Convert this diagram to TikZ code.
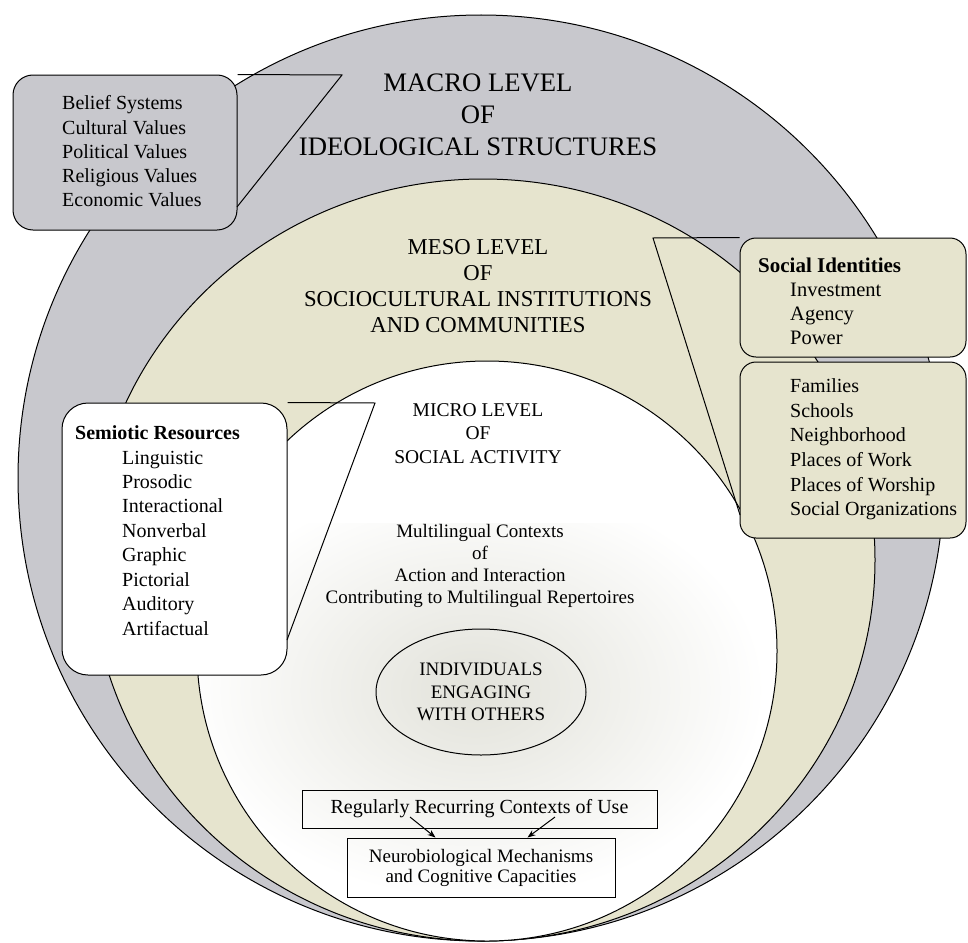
\documentclass[tikz,border=0pt]{standalone}
\usepackage{fontspec}
\setmainfont{Liberation Serif}
\usetikzlibrary{arrows.meta,calc,shapes.geometric}
\definecolor{ringgray}{RGB}{200,200,205}
\definecolor{ringbeige}{RGB}{230,228,206}
\definecolor{glowgray}{RGB}{226,226,218}
\begin{document}
\begin{tikzpicture}[x=1pt,y=-1pt,
  ring/.style={draw, line width=1pt},
  lvl/.style={align=center, inner sep=0pt},
  lst/.style={align=left, inner sep=0pt, anchor=west},
  cbox/.style={draw, line width=1pt, rounded corners=20pt, inner sep=0pt},
  tail/.style={line width=1pt},
  plainbox/.style={draw, line width=1pt, align=center, inner sep=0pt},
  arr/.style={-{Stealth[length=8pt,width=6pt]}, line width=1pt}]
\useasboundingbox (0,0) rectangle (968,942);
% rings
\draw[ring, fill=ringgray] (481,478) circle [radius=463pt];
\draw[ring, fill=ringbeige] (483,560) ellipse [x radius=392pt, y radius=381pt];
\fill[white] (487,651) circle [radius=290pt];
\begin{scope}
\clip (487,651) circle [radius=290pt];
\clip (200,523) rectangle (780,941);
\shade[inner color=glowgray, outer color=white] (475,690) ellipse [x radius=290pt, y radius=210pt];
\end{scope}
\draw[ring] (487,651) circle [radius=290pt];
% level titles
\node[lvl, font=\fontsize{26.7}{32}\selectfont] (macro) at (478,115) {MACRO LEVEL\\OF\\IDEOLOGICAL STRUCTURES};
\node[lvl, font=\fontsize{22.7}{26}\selectfont] (meso) at (478,286) {MESO LEVEL\\OF\\SOCIOCULTURAL INSTITUTIONS\\AND COMMUNITIES};
\node[lvl, font=\fontsize{19.5}{23.5}\selectfont] (micro) at (478,433.5) {MICRO LEVEL\\OF\\SOCIAL ACTIVITY};
\node[lvl, font=\fontsize{19}{21.7}\selectfont] (ctx) at (480,566) {Multilingual Contexts\\of\\Action and Interaction\\Contributing to Multilingual Repertoires};
\node[lvl, draw, ellipse, line width=1pt, minimum width=210pt, minimum height=126pt, font=\fontsize{19}{22.5}\selectfont] (indiv) at (481,692) {INDIVIDUALS\\ENGAGING\\WITH OTHERS};
% bottom boxes
\node[plainbox, minimum width=355pt, minimum height=38pt, font=\fontsize{20}{24}\selectfont] (rrc) at (479.5,809) {Regularly Recurring Contexts of Use};
\node[plainbox, minimum width=268pt, minimum height=59pt, font=\fontsize{19}{20}\selectfont] (nbm) at (481,867.5) {Neurobiological Mechanisms\\and Cognitive Capacities};
\coordinate (rA) at (410,817);
\coordinate (rB) at (555,817);
\draw[arr] (rA) -- ($(nbm.north west)+(89,0)$);
\draw[arr] (rB) -- ($(nbm.north east)+(-88,0)$);
% macro callout
\node[cbox, fill=ringgray, minimum width=224pt, minimum height=155pt] (macrobox) at (125,152.5) {};
\node[lst, font=\fontsize{20}{24.3}\selectfont] (macrolist) at (62,151.5) {Belief Systems\\Cultural Values\\Political Values\\Religious Values\\Economic Values};
\coordinate (macrotip) at (342,75);
\coordinate (macrofoot) at (237,207);
\draw[tail] (macrobox.north east) -- (macrotip) -- (macrofoot);
% semiotic callout
\node[cbox, fill=white, rounded corners=26pt, minimum width=225pt, minimum height=272pt] (semibox) at (174.5,539) {};
\node[lst, font=\bfseries\fontsize{20}{24}\selectfont] (semihead) at (75,433) {Semiotic Resources};
\node[lst, font=\fontsize{20}{24.43}\selectfont] (semilist) at (122,543) {Linguistic\\Prosodic\\Interactional\\Nonverbal\\Graphic\\Pictorial\\Auditory\\Artifactual};
\coordinate (semitip) at (375,403);
\coordinate (semifoot) at (287,640);
\draw[tail] (semibox.north east) -- (semitip) -- (semifoot);
% social callout
\node[cbox, fill=ringbeige, rounded corners=16pt, minimum width=226pt, minimum height=119pt] (socbox) at (853,297.5) {};
\node[cbox, fill=ringbeige, rounded corners=16pt, minimum width=226pt, minimum height=176pt] (orgbox) at (853,450) {};
\node[lst, font=\bfseries\fontsize{21}{24}\selectfont] (sochead) at (758,265) {Social Identities};
\node[lst, font=\fontsize{20.5}{24}\selectfont] (soclist) at (790,314) {Investment\\Agency\\Power};
\node[lst, font=\fontsize{20}{24.6}\selectfont] (orglist) at (790,449.5) {Families\\Schools\\Neighborhood\\Places of Work\\Places of Worship\\Social Organizations};
\coordinate (soctip) at (653,238);
\coordinate (socfoot) at (740,515);
\draw[tail] (socbox.north west) -- (soctip) -- (socfoot);
\end{tikzpicture}
\end{document}
